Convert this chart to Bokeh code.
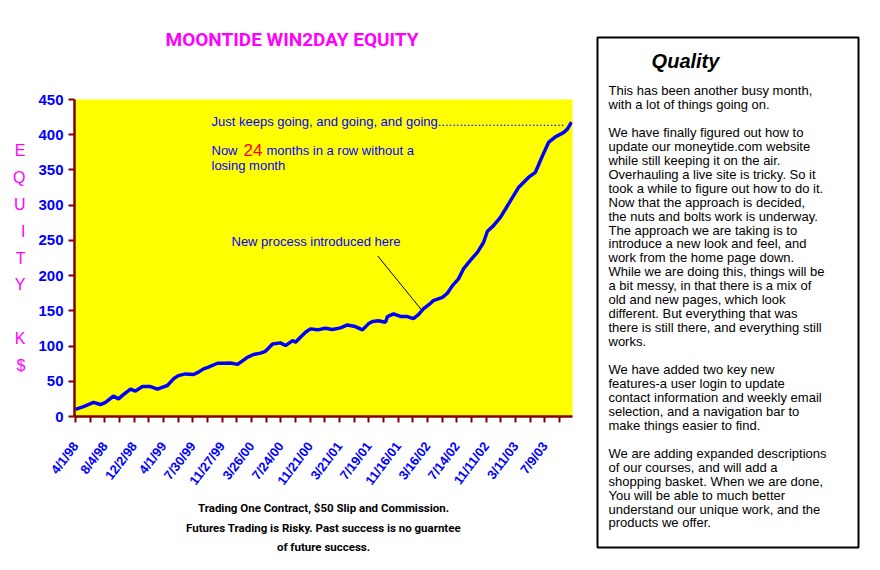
import math
from bokeh.plotting import figure
from bokeh.models import Range1d, FixedTicker, Label, ColumnDataSource, Title
from bokeh.layouts import row, column
from bokeh.embed import file_html
from bokeh.resources import INLINE
from bokeh.core.properties import value

# ---------------- data ----------------
days = [0, 33, 74, 102, 123, 155, 176, 196, 225, 245, 274, 307, 335, 376, 401, 421,
        450, 483, 503, 524, 544, 581, 605, 634, 663, 683, 703, 728, 757, 777, 806,
        838, 859, 888, 900, 920, 941, 961, 990, 1022, 1051, 1084, 1112, 1145, 1174,
        1198, 1215, 1239, 1268, 1276, 1301, 1329, 1358, 1382, 1403, 1423, 1452, 1464,
        1501, 1521, 1542, 1566, 1587, 1616, 1644, 1669, 1685, 1710, 1738, 1759, 1779,
        1812, 1853, 1881, 1910, 1935, 1963, 1996, 2012, 2029]
equity = [10, 14, 20, 17, 20, 29, 25, 31, 39, 36, 42.5, 42.5, 39, 44, 53.5, 58,
          60.5, 59.6, 63, 67.6, 70, 75.6, 75.6, 76, 74, 79, 84, 88, 90, 92.6, 103,
          104.5, 100.7, 107.8, 105.4, 112.5, 119.6, 124.4, 123, 125.3, 123.4, 125.8,
          130, 127.7, 123, 131.5, 135, 136, 133.8, 141.8, 145.7, 142, 141.8, 139, 144.7,
          152.8, 160.7, 164.5, 169, 175, 185.8, 195, 209.5, 222, 233, 247, 263, 271,
          282.7, 294.6, 306, 325, 339.4, 346.5, 370, 389, 397, 403, 408, 418]

tick_labels = ["4/1/98", "8/4/98", "12/2/98", "4/1/99", "7/30/99", "11/27/99",
               "3/26/00", "7/24/00", "11/21/00", "3/21/01", "7/19/01", "11/16/01",
               "3/16/02", "7/14/02", "11/11/02", "3/11/03", "7/9/03"]
label_days = [120 * i for i in range(len(tick_labels))]
minor_days = [60 + 120 * i for i in range(len(tick_labels))]
y_ticks = [0, 50, 100, 150, 200, 250, 300, 350, 400, 450]

title_text = "MOONTIDE WIN2DAY EQUITY"
y_word = "E\nQ\nU\nI\nT\nY\n \nK\n$"
footer_lines = ["Trading One Contract, $50 Slip and Commission.",
                "Futures Trading is Risky. Past success is no guarntee",
                "of future success."]
note1 = "Just keeps going, and going, and going" + "." * 35
note2a, note2b, note2c = "Now", "24", "months in a row without a"
note3 = "losing month"
note4 = "New process introduced here"
leader = dict(x0=1236, y0=228, x1=1414, y1=152)

box_title = "Quality"
box_lines = [
    "This has been another busy month,",
    "with a lot of things going on.",
    "",
    "We have finally figured out how to",
    "update our moneytide.com website",
    "while still keeping it on the air.",
    "Overhauling a live site is tricky. So it",
    "took a while to figure out how to do it.",
    "Now that the approach  is decided,",
    "the nuts and bolts work is underway.",
    "The approach we are taking is to",
    "introduce a new look and feel, and",
    "work from the home page down.",
    "While we are doing this, things will be",
    "a bit messy, in that there is a mix of",
    "old and new pages, which look",
    "different. But everything that was",
    "there is still there, and everything still",
    "works.",
    "",
    "We have added two key new",
    "features-a user login to update",
    "contact information and weekly email",
    "selection, and a navigation bar to",
    "make things easier to find.",
    "",
    "We are adding expanded descriptions",
    "of our courses, and will add a",
    "shopping basket. When we are done,",
    "You will be able to much better",
    "understand our unique work, and the",
    "products we offer.",
]

# ---------------- layout helpers ----------------
FRAME_L, FRAME_R, FRAME_T, FRAME_B = 74, 572, 99, 416   # page pixels
X0, X1, Y0, Y1 = -4, 2033, 0, 450


def dx(px):
    return X0 + (px - FRAME_L) * (X1 - X0) / (FRAME_R - FRAME_L)


def dy(py):
    return Y0 + (FRAME_B - py) * (Y1 - Y0) / (FRAME_B - FRAME_T)


BLUE = "#0000FF"
MAG = "#FF00FF"
MAROON = "#800000"
HEAD = "Roboto"

p = figure(width=596, height=562, output_backend="svg", toolbar_location=None,
           x_range=Range1d(X0, X1), y_range=Range1d(Y0, Y1),
           min_border_left=74, min_border_right=24, min_border_top=99,
           min_border_bottom=146)
p.background_fill_color = "#FFFF00"
p.border_fill_color = "white"
p.outline_line_color = None
p.grid.visible = False

# spacer panel between the frame and the title
p.add_layout(Title(text=" ", text_font_size="1px", standoff=46), "above")

p.title.text = title_text
p.title.align = "left"
p.title.offset = 91
p.title.text_font = HEAD
p.title.text_font_size = "19px"
p.title.text_font_style = "bold"
p.title.text_color = MAG
p.title.standoff = 0

p.line(days, equity, line_color=BLUE, line_width=3.5)
p.segment(x0=[leader["x0"]], y0=[leader["y0"]], x1=[leader["x1"]], y1=[leader["y1"]],
          line_color="black", line_width=1)

xa = p.xaxis[0]
xa.ticker = FixedTicker(ticks=label_days, minor_ticks=minor_days)
xa.major_label_overrides = {d: t for d, t in zip(label_days, tick_labels)}
xa.major_label_orientation = math.radians(53)
xa.major_label_text_font = "Liberation Sans"
xa.major_label_text_font_size = "13px"
xa.major_label_text_font_style = "bold"
xa.major_label_text_color = BLUE
xa.major_label_standoff = 21
xa.axis_line_color = MAROON
xa.axis_line_width = 2.5
xa.major_tick_line_color = MAROON
xa.major_tick_line_width = 2
xa.major_tick_out = 6
xa.major_tick_in = 0
xa.minor_tick_line_color = MAROON
xa.minor_tick_line_width = 2
xa.minor_tick_out = 6
xa.minor_tick_in = 0

ya = p.yaxis[0]
ya.ticker = FixedTicker(ticks=y_ticks, minor_ticks=[])
ya.major_label_text_font = "Liberation Sans"
ya.major_label_text_font_size = "15px"
ya.major_label_text_font_style = "bold"
ya.major_label_text_color = BLUE
ya.major_label_standoff = 5
ya.axis_line_color = MAROON
ya.axis_line_width = 2.5
ya.major_tick_line_color = MAROON
ya.major_tick_line_width = 2
ya.major_tick_out = 6
ya.major_tick_in = 0
ya.minor_tick_line_color = None
ya.axis_label = y_word
ya.axis_label_orientation = "horizontal"
ya.axis_label_text_font = "Liberation Sans"
ya.axis_label_text_font_size = "16px"
ya.axis_label_text_font_style = "normal"
ya.axis_label_text_color = MAG
ya.axis_label_text_line_height = 1.58
ya.axis_label_standoff = 10

# footer as stacked titles below the axis
for line, so in zip(footer_lines, [7, 0, 6]):
    t = Title(text=line, align="center", text_font=HEAD, text_font_size="11.5px",
              text_font_style="bold", text_color="black", standoff=so)
    p.add_layout(t, "below")


def add_label(px, py, text, size, color, font="Liberation Sans", style="normal",
              align="left", baseline="middle"):
    p.add_layout(Label(x=dx(px), y=dy(py), text=text, text_font=font,
                       text_font_size=size, text_font_style=style, text_color=color,
                       text_align=align, text_baseline=baseline))


add_label(211, 121, note1, "13px", BLUE)
add_label(211, 150, note2a, "13px", BLUE)
add_label(243, 149, note2b, "17px", "#FF0000")
add_label(266, 150, note2c, "13px", BLUE)
add_label(211, 165, note3, "13px", BLUE)
add_label(231, 241, note4, "13px", BLUE)

# ---------------- right text box ----------------
p2 = figure(width=276, height=562, output_backend="svg", toolbar_location=None,
            x_range=Range1d(597, 858), y_range=Range1d(547, 37),
            x_axis_type=None, y_axis_type=None,
            min_border_left=1, min_border_right=14, min_border_top=37,
            min_border_bottom=15)
p2.grid.visible = False
p2.background_fill_color = "white"
p2.border_fill_color = "white"
p2.outline_line_color = "black"
p2.outline_line_width = 2

p2.text(x=[685], y=[60], text=[box_title], text_font=value("Liberation Sans"),
        text_font_size="20px", text_font_style="bold italic", text_color="black",
        text_align="center", text_baseline="middle")

idx = [i for i, t in enumerate(box_lines) if t]
src = ColumnDataSource(dict(x=[608] * len(idx),
                            y=[90 + 13.95 * i for i in idx],
                            text=[box_lines[i] for i in idx]))
p2.text(x="x", y="y", text="text", source=src, text_font=value("Liberation Sans"),
        text_font_size="13px", text_color="black", text_align="left",
        text_baseline="middle")

layout = row(p, column(p2))
open("out.html", "w").write(file_html(layout, INLINE))
